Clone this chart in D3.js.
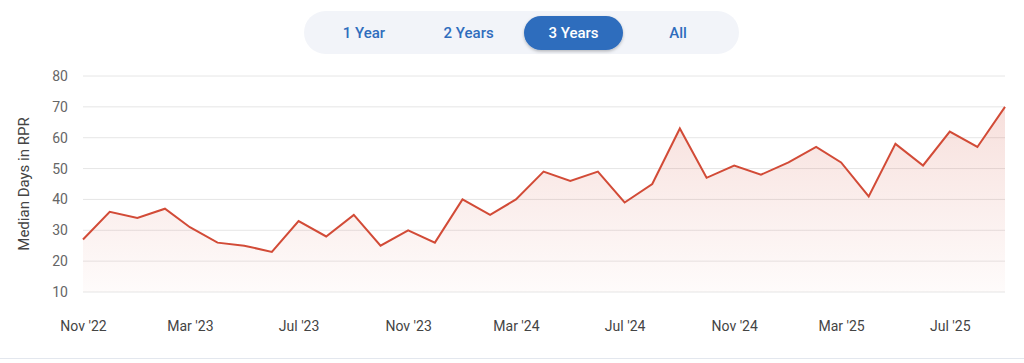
<!DOCTYPE html>
<html>
<head>
<meta charset="utf-8">
<script src="https://cdn.jsdelivr.net/npm/d3@7"></script>
<style>
  body { margin: 0; background: #fff; font-family: Roboto, "Noto Sans", sans-serif; }
  #chart { width: 1024px; height: 363px; }
</style>
</head>
<body>
<div id="chart"></div>
<script>
// monthly medians, Nov 2022 through Sep 2025
const startMonth = new Date(2022, 10, 1);
const medianDays = [27, 36, 34, 37, 31, 26, 25, 23, 33, 28, 35, 25, 30, 26, 40, 35, 40, 49,
    46, 49, 39, 45, 63, 47, 51, 48, 52, 57, 52, 41, 58, 51, 62, 57, 70];
const rangeOptions = ["1 Year", "2 Years", "3 Years", "All"];
const activeRange = "3 Years";
const yTicks = [10, 20, 30, 40, 50, 60, 70, 80];
const xTickLabels = ["Nov '22", "Mar '23", "Jul '23", "Nov '23", "Mar '24", "Jul '24", "Nov '24", "Mar '25", "Jul '25"];

const width = 1024;
const height = 363;
const lineColor = "#d24b37";

const data = medianDays.map((v, i) => ({ date: d3.timeMonth.offset(startMonth, i), value: v }));

const svg = d3.select("#chart").append("svg")
    .attr("width", width)
    .attr("height", height);

//range selector pill
const pill = svg.append("g");
pill.append("rect")
    .attr("x", 304).attr("y", 11)
    .attr("width", 435).attr("height", 43)
    .attr("rx", 21.5)
    .attr("fill", "#f2f4f9");

const btnX = d3.scalePoint().domain(rangeOptions).range([364, 678]);
const filt = svg.append("defs").append("filter").attr("id", "shadow")
    .attr("x", "-20%").attr("y", "-30%").attr("width", "140%").attr("height", "170%");
filt.append("feDropShadow").attr("dx", 0).attr("dy", 1.5).attr("stdDeviation", 1.5)
    .attr("flood-color", "#000").attr("flood-opacity", 0.25);

rangeOptions.forEach(opt => {
    if (opt === activeRange) {
        pill.append("rect")
            .attr("x", 524).attr("y", 16)
            .attr("width", 99).attr("height", 34)
            .attr("rx", 17)
            .attr("fill", "#2f6dbd")
            .attr("filter", "url(#shadow)");
    }
    pill.append("text")
        .attr("x", opt === activeRange ? 573.5 : btnX(opt))
        .attr("y", 38)
        .attr("text-anchor", "middle")
        .attr("font-size", 15)
        .attr("font-weight", 500)
        .attr("fill", opt === activeRange ? "#fff" : "#2f6dbd")
        .text(opt);
});

//scales
const x = d3.scaleTime()
    .domain([data[0].date, data[data.length - 1].date])
    .range([83, 1005]);
const y = d3.scaleLinear()
    .domain([10, 80])
    .range([292, 76]);

//grid lines
svg.append("g")
    .selectAll("line")
    .data(yTicks)
    .join("line")
    .attr("x1", 83).attr("x2", 1005)
    .attr("y1", d => y(d)).attr("y2", d => y(d))
    .attr("stroke", "#e6e6e6")
    .attr("stroke-width", 1);

//y axis
const yAxis = svg.append("g")
    .attr("transform", "translate(68,0)")
    .call(d3.axisLeft(y).tickValues(yTicks).tickSize(0).tickPadding(0));
yAxis.select(".domain").remove();
yAxis.selectAll("text")
    .attr("font-family", "Roboto, sans-serif")
    .attr("font-size", 14)
    .attr("fill", "#666");

svg.append("text")
    .attr("transform", "translate(29,184) rotate(-90)")
    .attr("text-anchor", "middle")
    .attr("font-size", 15)
    .attr("fill", "#444")
    .text("Median Days in RPR");

//x axis
const xTickDates = xTickLabels.map((t, i) => d3.timeMonth.offset(startMonth, i * 4));
const xAxis = svg.append("g")
    .attr("transform", "translate(0,321)")
    .call(d3.axisBottom(x).tickValues(xTickDates).tickSize(0).tickPadding(0)
        .tickFormat((d, i) => xTickLabels[i]));
xAxis.select(".domain").remove();
xAxis.selectAll("text")
    .attr("font-family", "Roboto, sans-serif")
    .attr("font-size", 14)
    .attr("fill", "#444")
    .attr("dy", "0.71em");

//area gradient
const grad = svg.select("defs").append("linearGradient")
    .attr("id", "areaFill")
    .attr("gradientUnits", "userSpaceOnUse")
    .attr("x1", 0).attr("y1", y(80)).attr("x2", 0).attr("y2", y(10));
grad.append("stop").attr("offset", "0%").attr("stop-color", lineColor).attr("stop-opacity", 0.2);
grad.append("stop").attr("offset", "100%").attr("stop-color", lineColor).attr("stop-opacity", 0.02);

const area = d3.area()
    .x(d => x(d.date))
    .y0(y(10))
    .y1(d => y(d.value));
svg.append("path")
    .datum(data)
    .attr("d", area)
    .attr("fill", "url(#areaFill)");

const line = d3.line()
    .x(d => x(d.date))
    .y(d => y(d.value));
svg.append("path")
    .datum(data)
    .attr("d", line)
    .attr("fill", "none")
    .attr("stroke", lineColor)
    .attr("stroke-width", 2)
    .attr("stroke-linejoin", "miter");

//bottom separator
svg.append("line")
    .attr("x1", 0).attr("x2", width)
    .attr("y1", 358.5).attr("y2", 358.5)
    .attr("stroke", "#e3e7ee")
    .attr("stroke-width", 1);
</script>
</body>
</html>
